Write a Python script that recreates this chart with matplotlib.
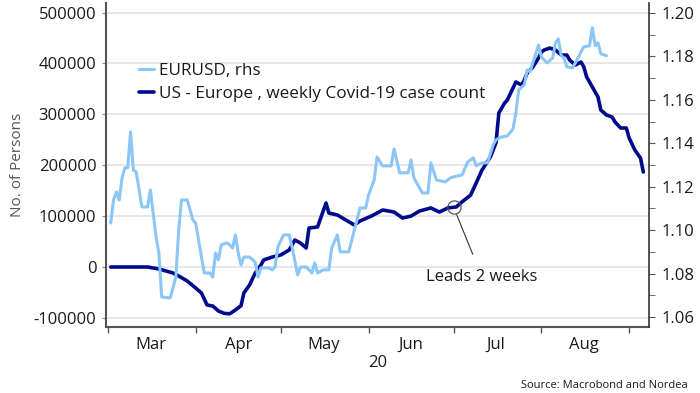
import matplotlib
matplotlib.use("Agg")
import matplotlib.pyplot as plt
import matplotlib.dates as mdates
import pandas as pd

plt.rcParams['font.family'] = ['Open Sans', 'DejaVu Sans']

# --- data ---
case_dates = ["2020-03-02", "2020-03-15", "2020-03-19", "2020-03-24", "2020-03-26", "2020-03-29",
              "2020-04-01", "2020-04-03", "2020-04-05", "2020-04-07", "2020-04-09", "2020-04-11",
              "2020-04-13", "2020-04-15", "2020-04-17", "2020-04-18", "2020-04-20", "2020-04-22",
              "2020-04-24", "2020-04-25", "2020-04-28", "2020-05-01", "2020-05-04", "2020-05-06",
              "2020-05-08", "2020-05-10", "2020-05-11", "2020-05-14", "2020-05-17", "2020-05-18",
              "2020-05-21", "2020-05-24", "2020-05-27", "2020-05-29", "2020-06-02", "2020-06-06",
              "2020-06-10", "2020-06-13", "2020-06-16", "2020-06-19", "2020-06-23", "2020-06-26",
              "2020-06-29", "2020-07-02", "2020-07-04", "2020-07-07", "2020-07-09", "2020-07-11",
              "2020-07-14", "2020-07-16", "2020-07-17", "2020-07-19", "2020-07-20", "2020-07-22",
              "2020-07-23", "2020-07-25", "2020-07-26", "2020-07-27", "2020-07-29", "2020-07-31",
              "2020-08-01", "2020-08-02", "2020-08-04", "2020-08-06", "2020-08-08", "2020-08-10",
              "2020-08-11", "2020-08-13", "2020-08-15", "2020-08-16", "2020-08-17", "2020-08-19",
              "2020-08-21", "2020-08-22", "2020-08-24", "2020-08-26", "2020-08-27", "2020-08-29",
              "2020-08-31", "2020-09-01", "2020-09-03", "2020-09-05", "2020-09-06"]
case_values = [0, 0, -3900, -11800, -17700, -27500,
               -41300, -51000, -74600, -76600, -86400, -91000,
               -92000, -84500, -76000, -51000, -35400, -11800,
               3900, 13800, 19600, 23600, 33400, 53000,
               47000, 37300, 76600, 78600, 125700, 106000,
               102200, 92300, 82500, 90400, 100000, 112000,
               108000, 96300, 100000, 110000, 116000, 108000,
               116000, 118000, 128000, 141000, 165000, 190000,
               216000, 244000, 302500, 322000, 328000, 351700,
               363500, 357600, 367400, 381100, 392900, 410600,
               422400, 426300, 430200, 426300, 416500, 416500,
               406700, 396800, 402700, 392900, 373300, 353600,
               334000, 308400, 298600, 294700, 284900, 273100,
               273100, 253400, 229900, 214100, 186600]

fx_dates = ["2020-03-02", "2020-03-03", "2020-03-04", "2020-03-05", "2020-03-06", "2020-03-07",
            "2020-03-08", "2020-03-09", "2020-03-10", "2020-03-11", "2020-03-13", "2020-03-15",
            "2020-03-16", "2020-03-18", "2020-03-19", "2020-03-20", "2020-03-23", "2020-03-25",
            "2020-03-26", "2020-03-27", "2020-03-29", "2020-03-31", "2020-04-01", "2020-04-02",
            "2020-04-04", "2020-04-06", "2020-04-07", "2020-04-08", "2020-04-09", "2020-04-10",
            "2020-04-12", "2020-04-13", "2020-04-14", "2020-04-15", "2020-04-16", "2020-04-17",
            "2020-04-18", "2020-04-20", "2020-04-22", "2020-04-23", "2020-04-24", "2020-04-27",
            "2020-04-28", "2020-04-29", "2020-04-30", "2020-05-02", "2020-05-04", "2020-05-05",
            "2020-05-07", "2020-05-08", "2020-05-10", "2020-05-12", "2020-05-13", "2020-05-14",
            "2020-05-16", "2020-05-18", "2020-05-19", "2020-05-21", "2020-05-22", "2020-05-25",
            "2020-05-27", "2020-05-29", "2020-05-31", "2020-06-01", "2020-06-03", "2020-06-04",
            "2020-06-06", "2020-06-09", "2020-06-10", "2020-06-12", "2020-06-15", "2020-06-16",
            "2020-06-17", "2020-06-20", "2020-06-22", "2020-06-23", "2020-06-25", "2020-06-28",
            "2020-06-30", "2020-07-01", "2020-07-04", "2020-07-06", "2020-07-08", "2020-07-09",
            "2020-07-11", "2020-07-13", "2020-07-15", "2020-07-16", "2020-07-18", "2020-07-20",
            "2020-07-22", "2020-07-23", "2020-07-24", "2020-07-26", "2020-07-27", "2020-07-28",
            "2020-07-29", "2020-07-31", "2020-08-01", "2020-08-03", "2020-08-05", "2020-08-06",
            "2020-08-07", "2020-08-08", "2020-08-09", "2020-08-10", "2020-08-12", "2020-08-13",
            "2020-08-15", "2020-08-16", "2020-08-18", "2020-08-19", "2020-08-20", "2020-08-21",
            "2020-08-22", "2020-08-24"]
fx_values = [1.1033, 1.1139, 1.1176, 1.1139, 1.1240, 1.1287,
             1.1287, 1.1452, 1.1277, 1.1268, 1.1107, 1.1107,
             1.1185, 1.0969, 1.0895, 1.0692, 1.0688, 1.0784,
             1.1001, 1.1139, 1.1139, 1.1047, 1.1033, 1.0955,
             1.0803, 1.0803, 1.0784, 1.0895, 1.0863, 1.0932,
             1.0941, 1.0932, 1.0918, 1.0978, 1.0895, 1.0840,
             1.0876, 1.0876, 1.0853, 1.0784, 1.0826, 1.0826,
             1.0817, 1.0830, 1.0923, 1.0978, 1.0978, 1.0923,
             1.0794, 1.0830, 1.0830, 1.0803, 1.0849, 1.0803,
             1.0817, 1.0817, 1.0918, 1.0978, 1.0900, 1.0900,
             1.1001, 1.1102, 1.1102, 1.1162, 1.1231, 1.1337,
             1.1296, 1.1296, 1.1374, 1.1264, 1.1264, 1.1323,
             1.1241, 1.1171, 1.1171, 1.1310, 1.1231, 1.1222,
             1.1241, 1.1245, 1.1254, 1.1314, 1.1333, 1.1296,
             1.1310, 1.1310, 1.1393, 1.1416, 1.1429, 1.1434,
             1.1466, 1.1540, 1.1646, 1.1669, 1.1738, 1.1729,
             1.1770, 1.1853, 1.1798, 1.1770, 1.1793, 1.1863,
             1.1881, 1.1803, 1.1793, 1.1752, 1.1747, 1.1770,
             1.1821, 1.1844, 1.1849, 1.1932, 1.1849, 1.1863,
             1.1812, 1.1803]

left_ticks = [-100000, 0, 100000, 200000, 300000, 400000, 500000]
right_ticks = [1.06, 1.08, 1.10, 1.12, 1.14, 1.16, 1.18, 1.20]
fx_label = "EURUSD, rhs"
case_label = "US - Europe , weekly Covid-19 case count"
annot_date = "2020-07-01"
annot_value = 118000
annot_text_date = "2020-07-11"
annot_text_value = -19000

DARK = "#000a8c"
LIGHT = "#8cc6f7"
TXT = "#1a1a1a"

cd = pd.to_datetime(case_dates)
fd = pd.to_datetime(fx_dates)

fig = plt.figure(figsize=(7.0, 3.93), dpi=100)
ax = fig.add_axes([106/700, 1-327/393, (649-106)/700, 324/393])
ax2 = ax.twinx()

line_case, = ax.plot(cd, case_values, color=DARK, lw=2.6, solid_capstyle='round', zorder=3)
line_fx, = ax2.plot(fd, fx_values, color=LIGHT, lw=2.2, solid_capstyle='round', zorder=2)

ax.set_ylim(-117900, 518700)
ax.set_yticks(left_ticks)
ax.set_yticklabels([str(v) for v in left_ticks])
ax2.set_ylim(1.0554, 1.2046)
ax2.set_yticks(right_ticks)
ax2.set_yticklabels([f"{v:.2f}" for v in right_ticks])
ax2.set_yticks([1.07, 1.09, 1.11, 1.13, 1.15, 1.17, 1.19], minor=True)

ax.set_xlim(pd.Timestamp("2020-02-29 08:00"), pd.Timestamp("2020-09-08"))
ax.xaxis.set_major_locator(mdates.MonthLocator())
ax.xaxis.set_major_formatter(plt.NullFormatter())
ax.xaxis.set_minor_locator(mdates.MonthLocator(bymonthday=16))
ax.xaxis.set_minor_formatter(mdates.DateFormatter('%b'))
ax.tick_params(axis='x', which='minor', length=0, pad=7, labelsize=12, labelcolor=TXT)
ax.tick_params(axis='x', which='major', length=4, color='#555555', width=1)

ax.grid(axis='y', color='#e3e3e3', lw=1.2, zorder=0)
ax.set_axisbelow(True)

for s in ['top']:
    ax.spines[s].set_visible(False)
    ax2.spines[s].set_visible(False)
ax.spines['left'].set_color('#555555')
ax.spines['left'].set_linewidth(1.5)
ax.spines['bottom'].set_color('#555555')
ax.spines['bottom'].set_linewidth(1.5)
ax.spines['right'].set_visible(False)
ax2.spines['left'].set_visible(False)
ax2.spines['bottom'].set_visible(False)
ax2.spines['right'].set_color('#333333')
ax2.spines['right'].set_linewidth(1.2)

ax.tick_params(axis='y', length=3, color='#888888', labelsize=12, labelcolor=TXT, pad=4)
ax2.tick_params(axis='y', which='major', length=4, color='#555555', labelsize=12, labelcolor=TXT, pad=5)
ax2.tick_params(axis='y', which='minor', length=4, color='#555555')

ax.set_ylabel("No. of Persons", fontsize=11, color='#555555', labelpad=6)

ax.text(pd.Timestamp("2020-06-01"), -0.111, "20", transform=ax.get_xaxis_transform(),
        ha='left', va='center', fontsize=12, color=TXT)

leg = ax2.legend([line_fx, line_case], [fx_label, case_label], loc='upper left',
                 bbox_to_anchor=(0.06, 0.815), frameon=False, fontsize=12.3,
                 handlelength=0.9, handletextpad=0.3, labelspacing=0.4, borderpad=0,
                 borderaxespad=0)
for t in leg.get_texts():
    t.set_color(TXT)

ax.plot([pd.Timestamp(annot_date)], [annot_value], marker='o', ms=9.5, mfc='none',
        mec='#555555', mew=0.9, zorder=5)
ax.annotate("Leads 2 weeks", xy=(pd.Timestamp(annot_date), annot_value),
            xytext=(pd.Timestamp(annot_text_date), annot_text_value),
            ha='center', va='center', fontsize=12, color=TXT,
            arrowprops=dict(arrowstyle='-', color='#333333', lw=0.8, shrinkA=9, shrinkB=6))

fig.text(688/700, 1-386/393, "Source: Macrobond and Nordea", ha='right', va='center',
         fontsize=8, color=TXT)

fig.savefig("out.png", dpi=100)
